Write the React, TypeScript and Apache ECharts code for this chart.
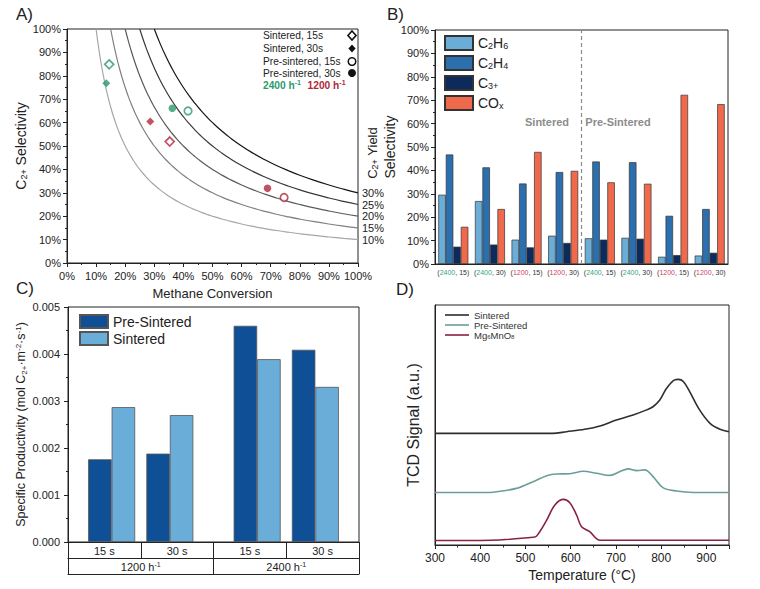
import React, { useEffect, useRef } from 'react';
import * as echarts from 'echarts';

const FONT = 'Arial, "Liberation Sans", Helvetica, sans-serif';
const INK = '#222';

// ---------- Panel A ----------
const yieldLevels = [10, 15, 20, 25, 30];
const yieldColors = ['#a6a6a6', '#808080', '#5a5a5a', '#383838', '#161616'];
const conversionSamples = [
  10, 11, 12, 13, 14, 15, 16, 17, 18, 19, 20, 21, 22, 23, 24, 25, 26, 27, 28, 29, 30,
  32, 34, 36, 38, 40, 42, 44, 46, 48, 50, 53, 56, 60, 64, 68, 72, 76, 80, 85, 90, 95, 100,
];
const rateColors = { r2400: '#2a9a6c', r1200: '#b0283c' };
// each: [conversion %, selectivity %]  index 0 = 2400 h-1, index 1 = 1200 h-1
const aSintered15 = [[14.5, 84.9], [35.3, 51.9]];
const aSintered30 = [[13.5, 76.8], [28.6, 60.5]];
const aPre15 = [[41.6, 65.0], [74.6, 28.0]];
const aPre30 = [[36.2, 66.1], [68.9, 31.9]];

// ---------- Panel B ----------
const bRates = ['2400', '2400', '1200', '1200', '2400', '2400', '1200', '1200'];
const bTimes = ['15', '30', '15', '30', '15', '30', '15', '30'];
const bC2H6 = [29.6, 26.9, 10.4, 12.1, 11.0, 11.2, 3.1, 3.6];
const bC2H4 = [46.8, 41.3, 34.4, 39.3, 43.8, 43.5, 20.6, 23.5];
const bC3 = [7.4, 8.3, 7.1, 9.0, 10.4, 10.8, 3.8, 4.8];
const bCOx = [15.9, 23.5, 47.9, 39.8, 34.9, 34.3, 72.3, 68.3];

// ---------- Panel C ----------
const cTimes = ['15 s', '30 s', '15 s', '30 s'];
const cRates = ['1200', '2400'];
const cBarPositions = [1, 2, 3.5, 4.5];
const cPre = [0.00176, 0.00188, 0.0046, 0.00409];
const cSint = [0.00287, 0.0027, 0.00389, 0.0033];

// ---------- Panel D ----------
const dSintered = [
  [300, 46.5], [560, 46.5], [591, 47.2], [631, 48.2], [665, 49.6], [701, 52.1], [738, 54.2],
  [768, 56.3], [782, 57.6], [797, 60.4], [812, 65.3], [830, 68.8], [838, 69.0], [849, 68.1],
  [863, 63.9], [885, 56.3], [908, 50.7], [930, 48.2], [950, 47.2],
];
const dPre = [
  [300, 21.9], [420, 21.9], [444, 22.4], [480, 23.6], [517, 26.4], [547, 28.9], [569, 29.6],
  [598, 29.7], [628, 30.7], [657, 29.9], [687, 29.0], [709, 30.6], [727, 31.7], [746, 31.0],
  [764, 31.3], [782, 28.5], [804, 23.9], [834, 22.5], [871, 21.9], [950, 21.9],
];
const dMg = [
  [300, 1.9], [400, 1.9], [443, 2.1], [517, 3.2], [525, 3.8], [547, 10.4], [565, 16.7],
  [584, 19.0], [598, 17.6], [613, 12.5], [624, 7.6], [642, 5.6], [665, 2.0], [950, 2.0],
];

function rich(size: number, color = INK) {
  return {
    n: { fontSize: size, fontFamily: FONT, color, lineHeight: size + 1 },
    s: { fontSize: Math.round(size * 0.66), fontFamily: FONT, color, verticalAlign: 'bottom', lineHeight: Math.round(size * 0.5) },
    u: { fontSize: Math.round(size * 0.66), fontFamily: FONT, color, verticalAlign: 'top', lineHeight: Math.round(size * 0.5) },
  };
}

export default function App() {
  const ref = useRef<HTMLDivElement>(null);
  useEffect(() => {
    if (!ref.current) return;
    const chart = echarts.init(ref.current, null, { renderer: 'svg' });

    const axisLine = { show: true, lineStyle: { color: INK, width: 1 } };
    const gridBase = { show: true, borderColor: INK, borderWidth: 1, backgroundColor: 'transparent', containLabel: false };

    const curveSeries = yieldLevels.map((Y, i) => ({
      type: 'line',
      name: 'Yield ' + Y + '%',
      xAxisIndex: 0,
      yAxisIndex: 0,
      showSymbol: false,
      symbol: 'none',
      silent: true,
      smooth: true,
      data: conversionSamples.filter((x) => x >= Y).map((x) => [x, (100 * Y) / x]),
      lineStyle: { color: yieldColors[i], width: 1.2 },
      endLabel: { show: true, formatter: Y + '%', fontSize: 11, fontFamily: FONT, color: INK, distance: 4 },
    }));

    const scatterDef = [
      { name: 'Sintered, 15s', data: aSintered15, symbol: 'diamond', open: true, size: 9 },
      { name: 'Sintered, 30s', data: aSintered30, symbol: 'diamond', open: false, size: 8 },
      { name: 'Pre-sintered, 15s', data: aPre15, symbol: 'circle', open: true, size: 7.5 },
      { name: 'Pre-sintered, 30s', data: aPre30, symbol: 'circle', open: false, size: 7.5 },
    ];
    const scatterSeries = scatterDef.map((d) => ({
      type: 'scatter',
      name: d.name,
      xAxisIndex: 0,
      yAxisIndex: 0,
      symbol: d.symbol,
      symbolSize: d.size,
      z: 5,
      data: d.data.map((p, i) => {
        const c = i === 0 ? rateColors.r2400 : rateColors.r1200;
        return {
          value: p,
          itemStyle: d.open ? { color: '#fff', borderColor: c, borderWidth: 1.7 } : { color: c },
        };
      }),
    }));

    const bColors = ['#6aaed8', '#2b6fae', '#0c2a5c', '#ef6a4c'];
    const bNames = ['C2H6', 'C2H4', 'C3+', 'COx'];
    const bData = [bC2H6, bC2H4, bC3, bCOx];
    const bLegendRich: Record<string, string> = {
      C2H6: '{n|C}{s|2}{n|H}{s|6}',
      C2H4: '{n|C}{s|2}{n|H}{s|4}',
      'C3+': '{n|C}{s|3+}',
      COx: '{n|CO}{s|x}',
    };
    const bSeries = bNames.map((n, i) => ({
      type: 'bar',
      name: n,
      xAxisIndex: 1,
      yAxisIndex: 1,
      data: bData[i],
      barGap: '0%',
      barCategoryGap: '18%',
      itemStyle: { color: bColors[i], borderColor: '#333', borderWidth: 0.7 },
    }));

    const cSeries = [
      { name: 'Pre-Sintered', vals: cPre, color: '#0f4f95' },
      { name: 'Sintered', vals: cSint, color: '#6badd9' },
    ].map((s) => ({
      type: 'bar',
      name: s.name,
      xAxisIndex: 3,
      yAxisIndex: 2,
      barWidth: 23.5,
      barGap: '0%',
      data: cBarPositions.map((p, i) => [p, s.vals[i]]),
      itemStyle: { color: s.color, borderColor: '#555', borderWidth: 0.8 },
    }));

    const dDefs = [
      { name: 'TPR-Sintered', data: dSintered, color: '#2e2e2e' },
      { name: 'TPR-Pre-Sintered', data: dPre, color: '#6b9d99' },
      { name: 'Mg6MnO8', data: dMg, color: '#8a2042' },
    ];
    const dLegendRich: Record<string, string> = {
      'TPR-Sintered': '{n|Sintered}',
      'TPR-Pre-Sintered': '{n|Pre-Sintered}',
      Mg6MnO8: '{n|Mg}{s|6}{n|MnO}{s|8}',
    };
    const dSeries = dDefs.map((d) => ({
      type: 'line',
      name: d.name,
      xAxisIndex: 7,
      yAxisIndex: 3,
      symbol: 'none',
      showSymbol: false,
      smooth: 0.35,
      data: d.data,
      lineStyle: { color: d.color, width: 1.6 },
      itemStyle: { color: d.color },
    }));

    const legendRowsA = [
      { t: 'Sintered, 15s', y: 35.5, shape: 'diamond', open: true },
      { t: 'Sintered, 30s', y: 48.5, shape: 'diamond', open: false },
      { t: 'Pre-sintered, 15s', y: 61.5, shape: 'circle', open: true },
      { t: 'Pre-sintered, 30s', y: 73, shape: 'circle', open: false },
    ];
    const legendAGraphics: any[] = [];
    legendRowsA.forEach((r) => {
      legendAGraphics.push({
        type: 'text', x: 263, y: r.y,
        style: { text: r.t, fontSize: 10.2, fontFamily: FONT, fill: INK, align: 'left', verticalAlign: 'middle' },
      });
      const sx = 352;
      if (r.shape === 'diamond') {
        const h = r.open ? 4.5 : 4;
        legendAGraphics.push({
          type: 'polygon',
          shape: { points: [[sx, r.y - h], [sx + h * 0.9, r.y], [sx, r.y + h], [sx - h * 0.9, r.y]] },
          style: r.open ? { fill: '#fff', stroke: '#111', lineWidth: 1.6 } : { fill: '#111' },
        });
      } else {
        legendAGraphics.push({
          type: 'circle',
          shape: { cx: sx, cy: r.y, r: r.open ? 3.8 : 4 },
          style: r.open ? { fill: '#fff', stroke: '#111', lineWidth: 1.5 } : { fill: '#111' },
        });
      }
    });
    legendAGraphics.push({
      type: 'text', x: 263, y: 85,
      style: {
        text: '{g|2400 h}{gu|-1}  {r|1200 h}{ru|-1}', verticalAlign: 'middle', align: 'left',
        rich: {
          g: { fontSize: 10.2, fontWeight: 'bold', fontFamily: FONT, fill: rateColors.r2400, lineHeight: 12 },
          gu: { fontSize: 7, fontWeight: 'bold', fontFamily: FONT, fill: rateColors.r2400, verticalAlign: 'top', lineHeight: 6 },
          r: { fontSize: 10.2, fontWeight: 'bold', fontFamily: FONT, fill: rateColors.r1200, lineHeight: 12 },
          ru: { fontSize: 7, fontWeight: 'bold', fontFamily: FONT, fill: rateColors.r1200, verticalAlign: 'top', lineHeight: 6 },
        },
      },
    });

    const panelLabel = (t: string, x: number, y: number) => ({
      type: 'text', x, y, style: { text: t, fontSize: 17, fontFamily: FONT, fill: INK },
    });

    const option: any = {
      animation: false,
      textStyle: { fontFamily: FONT },
      grid: [
        { ...gridBase, left: 67, top: 29, width: 291, height: 234 },
        { ...gridBase, left: 435, top: 30, width: 293, height: 234 },
        { ...gridBase, left: 68, top: 307, width: 291, height: 235 },
        { ...gridBase, left: 435, top: 305, width: 294, height: 240 },
      ],
      xAxis: [
        {
          type: 'value', gridIndex: 0, min: 0, max: 100, interval: 10, position: 'bottom',
          axisLine, splitLine: { show: false },
          axisTick: { show: true, length: 4, lineStyle: { color: INK } },
          minorTick: { show: true, splitNumber: 2, length: 2, lineStyle: { color: INK } },
          axisLabel: { formatter: '{value}%', fontSize: 11, color: INK, margin: 7 },
          name: 'Methane Conversion', nameLocation: 'middle', nameGap: 24,
          nameTextStyle: { fontSize: 13, color: INK, fontFamily: FONT },
        },
        {
          type: 'category', gridIndex: 1, position: 'bottom',
          data: bRates.map((r, i) => ({ value: r + ',' + bTimes[i] })),
          axisLine, axisTick: { show: false }, splitLine: { show: false },
          axisLabel: {
            interval: 0, margin: 5, hideOverlap: false,
            formatter: (v: string) => {
              const [r, t] = v.split(',');
              return '{p|(}' + (r === '2400' ? '{g|' : '{r|') + r + '}{p|, ' + t + ')}';
            },
            rich: {
              p: { fontSize: 7, fontFamily: FONT, color: '#333' },
              g: { fontSize: 7, fontFamily: FONT, color: '#3aa57c' },
              r: { fontSize: 7, fontFamily: FONT, color: '#cf3f62' },
            },
          },
        },
        { type: 'value', gridIndex: 1, min: 0, max: 8, show: false, position: 'bottom' },
        { type: 'value', gridIndex: 2, min: 0.25, max: 5.25, show: false, position: 'bottom' },
        {
          type: 'category', gridIndex: 2, position: 'bottom', offset: 0, data: cTimes,
          axisLine, splitLine: { show: false },
          axisTick: { show: true, length: 16, alignWithLabel: false, lineStyle: { color: INK } },
          axisLabel: { interval: 0, fontSize: 11, color: INK, margin: 3 },
        },
        {
          type: 'category', gridIndex: 2, position: 'bottom', offset: 16, data: cRates,
          axisLine, splitLine: { show: false },
          axisTick: { show: true, length: 16, alignWithLabel: false, lineStyle: { color: INK } },
          axisLabel: {
            interval: 0, margin: 3,
            formatter: (v: string) => '{n|' + v + ' h}{u|-1}',
            rich: rich(11),
          },
        },
        {
          type: 'category', gridIndex: 2, position: 'bottom', offset: 32, data: cRates,
          axisLine, axisTick: { show: false }, axisLabel: { show: false }, splitLine: { show: false },
        },
        {
          type: 'value', gridIndex: 3, min: 300, max: 950, interval: 100, position: 'bottom',
          axisLine, splitLine: { show: false },
          axisTick: { show: true, length: 4, lineStyle: { color: INK } },
          minorTick: { show: true, splitNumber: 2, length: 2.5, lineStyle: { color: INK } },
          axisLabel: { fontSize: 12, color: INK, margin: 7, formatter: (v: number) => (v % 100 === 0 ? String(v) : '') },
          name: 'Temperature (°C)', nameLocation: 'middle', nameGap: 23,
          nameTextStyle: { fontSize: 14, color: INK, fontFamily: FONT },
        },
      ],
      yAxis: [
        {
          type: 'value', gridIndex: 0, min: 0, max: 100, interval: 10,
          axisLine, splitLine: { show: false },
          axisTick: { show: true, length: 4, lineStyle: { color: INK } },
          minorTick: { show: true, splitNumber: 2, length: 2, lineStyle: { color: INK } },
          axisLabel: { formatter: '{value}%', fontSize: 11, color: INK, margin: 6 },
          name: '{n|C}{s|2+}{n| Selectivity}', nameLocation: 'middle', nameGap: 37,
          nameTextStyle: { rich: rich(14) },
        },
        {
          type: 'value', gridIndex: 1, min: 0, max: 100, interval: 10,
          axisLine, splitLine: { show: false },
          axisTick: { show: true, length: 4, lineStyle: { color: INK } },
          minorTick: { show: true, splitNumber: 2, length: 2, lineStyle: { color: INK } },
          axisLabel: { formatter: '{value}%', fontSize: 11, color: INK, margin: 6 },
          name: 'Selectivity', nameLocation: 'middle', nameGap: 34,
          nameTextStyle: { fontSize: 14, color: INK, fontFamily: FONT },
        },
        {
          type: 'value', gridIndex: 2, min: 0, max: 0.005, interval: 0.001,
          axisLine, splitLine: { show: false },
          axisTick: { show: true, length: 4, lineStyle: { color: INK } },
          minorTick: { show: true, splitNumber: 2, length: 2, lineStyle: { color: INK } },
          axisLabel: { formatter: (v: number) => v.toFixed(3), fontSize: 11, color: INK, margin: 8 },
          name: '{n|Specific Productivity (mol C}{s|2+}{n|·m}{u|-2}{n|·s}{u|-1}{n|)}',
          nameLocation: 'middle', nameGap: 40,
          nameTextStyle: { rich: rich(12.5) },
        },
        {
          type: 'value', gridIndex: 3, min: 0, max: 100,
          axisLine, splitLine: { show: false }, axisTick: { show: false }, axisLabel: { show: false },
          name: 'TCD Signal (a.u.)', nameLocation: 'middle', nameGap: 14,
          nameTextStyle: { fontSize: 16, color: INK, fontFamily: FONT },
        },
      ],
      legend: [
        {
          data: bNames, left: 444, top: 35, padding: 0, orient: 'vertical', itemWidth: 28, itemHeight: 14, itemGap: 4,
          icon: 'rect', selectedMode: false,
          formatter: (n: string) => bLegendRich[n],
          textStyle: { rich: rich(14) },
        },
        {
          data: ['Pre-Sintered', 'Sintered'], left: 79, top: 314, padding: 0, orient: 'vertical', itemWidth: 28, itemHeight: 13,
          itemGap: 2, icon: 'rect', selectedMode: false,
          textStyle: { fontSize: 14, color: INK, fontFamily: FONT, lineHeight: 14 },
        },
        {
          data: dDefs.map((d) => d.name), left: 445, top: 310, padding: 0, orient: 'vertical', itemWidth: 24, itemHeight: 1.6,
          itemGap: 0, icon: 'rect', selectedMode: false,
          formatter: (n: string) => dLegendRich[n],
          textStyle: { rich: rich(9.5, '#333') },
        },
      ],
      series: [
        ...curveSeries,
        ...scatterSeries,
        ...bSeries,
        {
          type: 'line', name: 'divider', xAxisIndex: 2, yAxisIndex: 1, symbol: 'none', silent: true,
          data: [[4, 0], [4, 100]], lineStyle: { color: '#8a8a8a', width: 1.2, type: [4, 3] },
        },
        ...cSeries,
        ...dSeries,
      ],
      graphic: [
        panelLabel('A)', 16, 6),
        panelLabel('B)', 387, 6),
        panelLabel('C)', 16, 280),
        panelLabel('D)', 396, 281),
        ...legendAGraphics,
        {
          type: 'text', x: 372, y: 153, rotation: Math.PI / 2,
          style: {
            text: '{n|C}{s|2+}{n| Yield}', align: 'center', verticalAlign: 'middle',
            rich: {
              n: { fontSize: 13, fontFamily: FONT, fill: INK, lineHeight: 14 },
              s: { fontSize: 9, fontFamily: FONT, fill: INK, verticalAlign: 'bottom', lineHeight: 7 },
            },
          },
        },
        {
          type: 'text', x: 547, y: 122,
          style: { text: 'Sintered', fontSize: 11, fontWeight: 'bold', fontFamily: FONT, fill: '#8c8c8c', align: 'center', verticalAlign: 'middle' },
        },
        {
          type: 'text', x: 618, y: 122,
          style: { text: 'Pre-Sintered', fontSize: 11, fontWeight: 'bold', fontFamily: FONT, fill: '#8c8c8c', align: 'center', verticalAlign: 'middle' },
        },
      ],
    };

    chart.setOption(option);
    return () => chart.dispose();
  }, []);

  return (
    <div
      ref={ref}
      style={{ position: 'absolute', left: 0, top: 0, width: 760, height: 589, background: '#fff' }}
    />
  );
}
